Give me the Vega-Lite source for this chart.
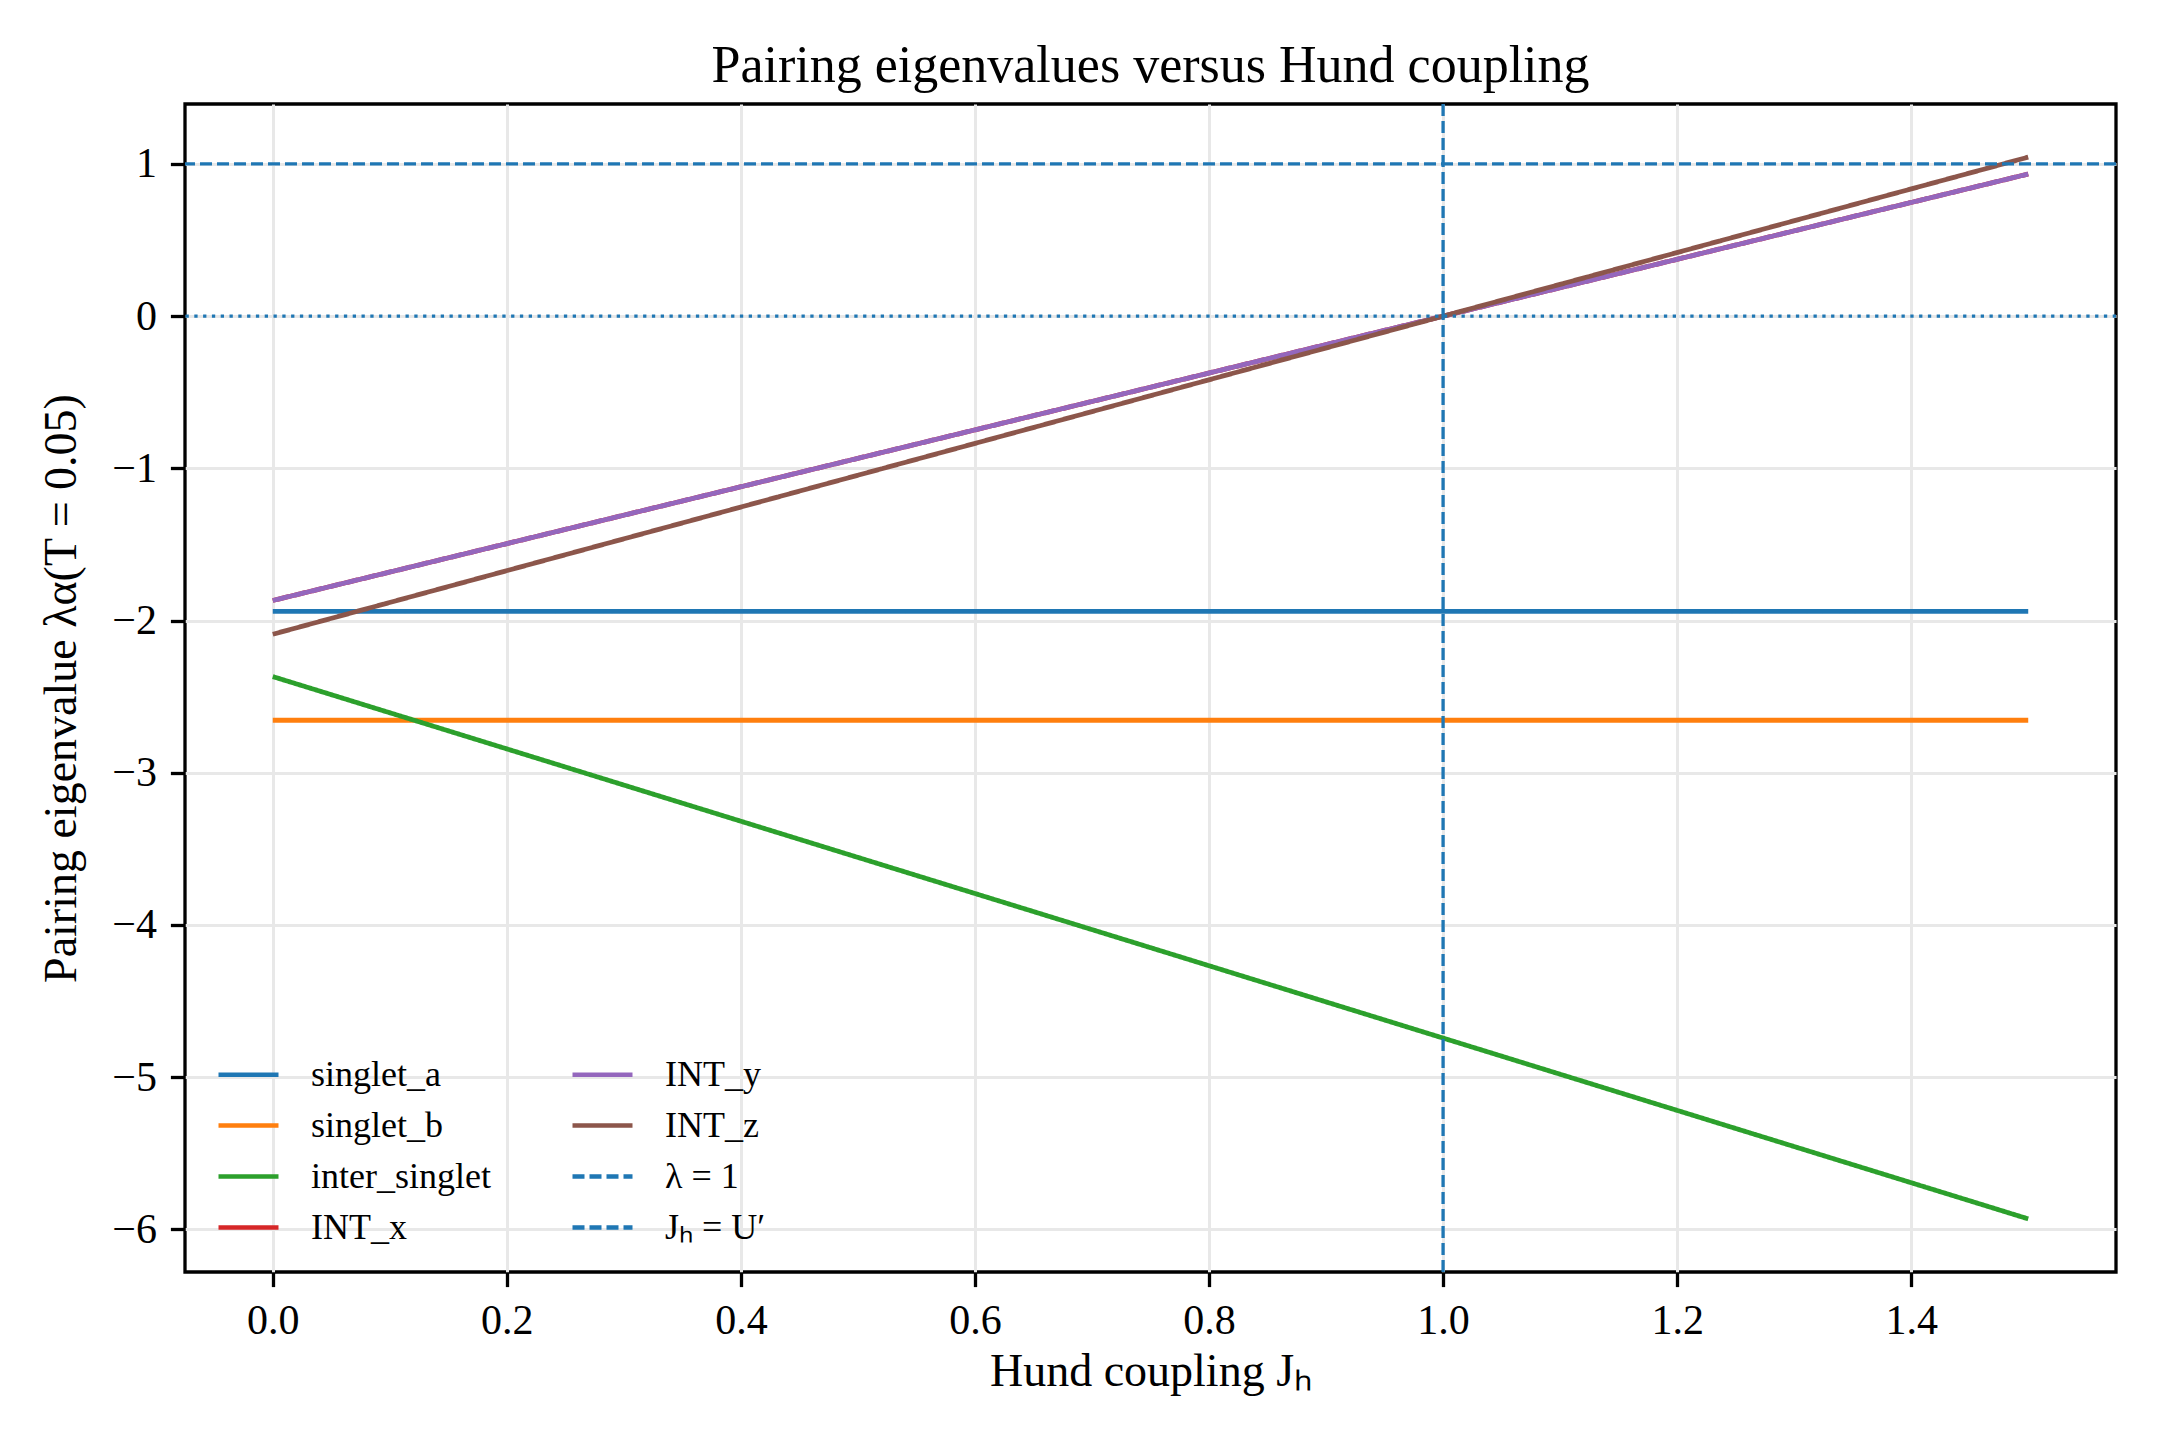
{
  "$schema": "https://vega.github.io/schema/vega-lite/v6.json",
  "width": 1931,
  "height": 1168,
  "autosize": {"type": "none"},
  "padding": {"left": 185, "top": 104, "right": 44, "bottom": 168},
  "background": "white",
  "title": {
    "text": "Pairing eigenvalues versus Hund coupling",
    "font": "Liberation Serif",
    "fontSize": 52,
    "fontWeight": "normal",
    "color": "black",
    "anchor": "middle",
    "offset": 9
  },
  "config": {
    "font": "Liberation Serif",
    "view": {"stroke": "black", "strokeWidth": 3.3},
    "axis": {
      "domain": false,
      "grid": true,
      "gridColor": "#e8e8e8",
      "gridWidth": 3,
      "ticks": true,
      "tickColor": "black",
      "tickWidth": 3.3,
      "tickSize": 14.6,
      "labelFont": "Liberation Serif",
      "labelFontSize": 42,
      "labelColor": "black",
      "labelPadding": 14,
      "titleFont": "Liberation Serif",
      "titleFontSize": 46,
      "titleFontWeight": "normal",
      "titleColor": "black"
    },
    "legend": {
      "title": null,
      "orient": "none",
      "legendX": 31,
      "legendY": 938,
      "columns": 2,
      "columnPadding": 72,
      "rowPadding": -20,
      "padding": 0,
      "symbolType": "stroke",
      "symbolSize": 3600,
      "symbolStrokeWidth": 4.6,
      "labelFont": "Liberation Serif",
      "labelFontSize": 36,
      "labelColor": "black",
      "labelOffset": 30,
      "labelLimit": 400
    }
  },
  "datasets": {
    "curves": [
      {"series": "singlet_a", "JH": 0.0, "lambda": -1.94},
      {"series": "singlet_a", "JH": 0.25, "lambda": -1.94},
      {"series": "singlet_a", "JH": 0.5, "lambda": -1.94},
      {"series": "singlet_a", "JH": 0.75, "lambda": -1.94},
      {"series": "singlet_a", "JH": 1.0, "lambda": -1.94},
      {"series": "singlet_a", "JH": 1.25, "lambda": -1.94},
      {"series": "singlet_a", "JH": 1.5, "lambda": -1.94},
      {"series": "singlet_b", "JH": 0.0, "lambda": -2.655},
      {"series": "singlet_b", "JH": 0.25, "lambda": -2.655},
      {"series": "singlet_b", "JH": 0.5, "lambda": -2.655},
      {"series": "singlet_b", "JH": 0.75, "lambda": -2.655},
      {"series": "singlet_b", "JH": 1.0, "lambda": -2.655},
      {"series": "singlet_b", "JH": 1.25, "lambda": -2.655},
      {"series": "singlet_b", "JH": 1.5, "lambda": -2.655},
      {"series": "inter_singlet", "JH": 0.0, "lambda": -2.368},
      {"series": "inter_singlet", "JH": 0.25, "lambda": -2.962},
      {"series": "inter_singlet", "JH": 0.5, "lambda": -3.556},
      {"series": "inter_singlet", "JH": 0.75, "lambda": -4.149},
      {"series": "inter_singlet", "JH": 1.0, "lambda": -4.743},
      {"series": "inter_singlet", "JH": 1.25, "lambda": -5.337},
      {"series": "inter_singlet", "JH": 1.5, "lambda": -5.931},
      {"series": "INT_x", "JH": 0.0, "lambda": -1.868},
      {"series": "INT_x", "JH": 0.25, "lambda": -1.401},
      {"series": "INT_x", "JH": 0.5, "lambda": -0.934},
      {"series": "INT_x", "JH": 0.75, "lambda": -0.467},
      {"series": "INT_x", "JH": 1.0, "lambda": 0.0},
      {"series": "INT_x", "JH": 1.25, "lambda": 0.467},
      {"series": "INT_x", "JH": 1.5, "lambda": 0.934},
      {"series": "INT_y", "JH": 0.0, "lambda": -1.868},
      {"series": "INT_y", "JH": 0.25, "lambda": -1.401},
      {"series": "INT_y", "JH": 0.5, "lambda": -0.934},
      {"series": "INT_y", "JH": 0.75, "lambda": -0.467},
      {"series": "INT_y", "JH": 1.0, "lambda": 0.0},
      {"series": "INT_y", "JH": 1.25, "lambda": 0.467},
      {"series": "INT_y", "JH": 1.5, "lambda": 0.934},
      {"series": "INT_z", "JH": 0.0, "lambda": -2.09},
      {"series": "INT_z", "JH": 0.25, "lambda": -1.5675},
      {"series": "INT_z", "JH": 0.5, "lambda": -1.045},
      {"series": "INT_z", "JH": 0.75, "lambda": -0.5225},
      {"series": "INT_z", "JH": 1.0, "lambda": 0.0},
      {"series": "INT_z", "JH": 1.25, "lambda": 0.5225},
      {"series": "INT_z", "JH": 1.5, "lambda": 1.045}
    ],
    "zeroline": [{"lambda": 0}],
    "threshold": [{"series": "λ = 1", "lambda": 1}],
    "hundline": [{"series": "Jₕ = U′", "JH": 1.0}]
  },
  "layer": [
    {
      "data": {"name": "curves"},
      "mark": {"type": "line", "strokeWidth": 4.8, "strokeCap": "butt"},
      "encoding": {
        "x": {
          "field": "JH",
          "type": "quantitative",
          "scale": {"domain": [-0.075, 1.575], "nice": false, "zero": false},
          "axis": {
            "title": "Hund coupling Jₕ",
            "values": [0, 0.2, 0.4, 0.6, 0.8, 1.0, 1.2, 1.4],
            "format": ".1f",
            "titlePadding": 8
          }
        },
        "y": {
          "field": "lambda",
          "type": "quantitative",
          "scale": {"domain": [-6.28, 1.394], "nice": false, "zero": false},
          "axis": {
            "title": "Pairing eigenvalue λα(T = 0.05)",
            "values": [-6, -5, -4, -3, -2, -1, 0, 1],
            "format": "d",
            "titlePadding": 26
          }
        },
        "color": {
          "field": "series",
          "type": "nominal",
          "scale": {
            "domain": ["singlet_a", "singlet_b", "inter_singlet", "INT_x", "INT_y", "INT_z", "λ = 1", "Jₕ = U′"],
            "range": ["#1f77b4", "#ff7f0e", "#2ca02c", "#d62728", "#9467bd", "#8c564b", "#1f77b4", "#1f77b4"]
          }
        },
        "strokeDash": {
          "field": "series",
          "type": "nominal",
          "scale": {
            "domain": ["singlet_a", "singlet_b", "inter_singlet", "INT_x", "INT_y", "INT_z", "λ = 1", "Jₕ = U′"],
            "range": [[1, 0], [1, 0], [1, 0], [1, 0], [1, 0], [1, 0], [12, 5], [12, 5]]
          }
        }
      }
    },
    {
      "data": {"name": "zeroline"},
      "mark": {"type": "rule", "color": "#1f77b4", "strokeWidth": 3.3, "strokeDash": [3.3, 5.5]},
      "encoding": {
        "y": {"field": "lambda", "type": "quantitative"}
      }
    },
    {
      "data": {"name": "threshold"},
      "mark": {"type": "rule", "strokeWidth": 3.3},
      "encoding": {
        "y": {"field": "lambda", "type": "quantitative"},
        "color": {"field": "series", "type": "nominal"},
        "strokeDash": {"field": "series", "type": "nominal"}
      }
    },
    {
      "data": {"name": "hundline"},
      "mark": {"type": "rule", "strokeWidth": 3.3},
      "encoding": {
        "x": {"field": "JH", "type": "quantitative"},
        "color": {"field": "series", "type": "nominal"},
        "strokeDash": {"field": "series", "type": "nominal"}
      }
    }
  ]
}
